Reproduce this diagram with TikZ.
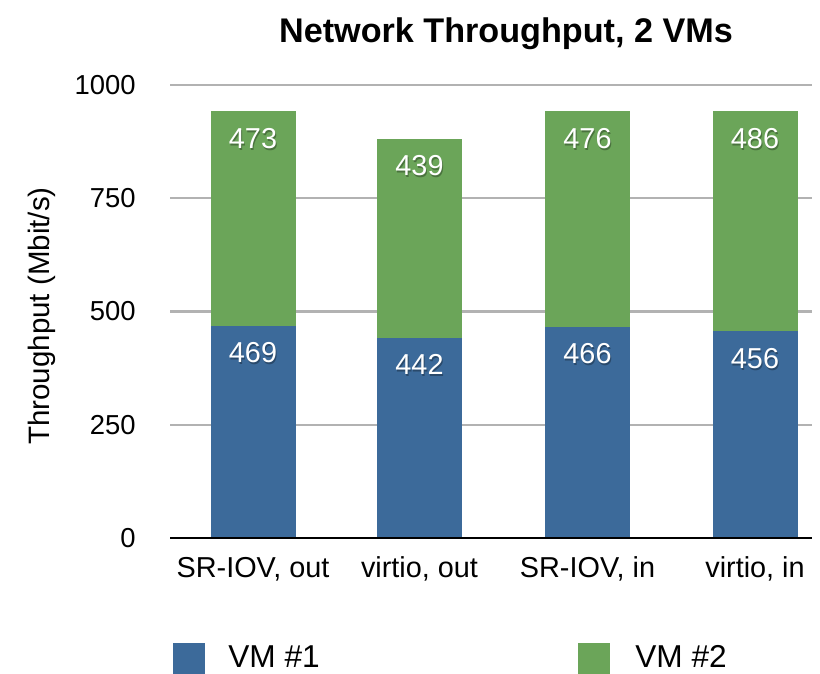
\documentclass[tikz,border=0pt]{standalone}
\usepackage{fontspec}
\setmainfont{Liberation Sans}
\usepackage{xcolor}
\usepackage{tikz}
\usetikzlibrary{positioning}
\definecolor{vmblue}{RGB}{60,106,154}
\definecolor{vmgreen}{RGB}{107,165,89}
\definecolor{gridgray}{RGB}{178,178,178}

\begin{document}
\begin{tikzpicture}[x=0.025cm,y=-0.025cm,
	gridline/.style={gridgray,line width=1.5pt},
	ticklab/.style={anchor=east,inner sep=0pt,font=\fontsize{19.5}{22}\selectfont},
	catlab/.style={anchor=base,inner sep=0pt,font=\fontsize{20.5}{24}\selectfont},
	vallab/.style={text=white,inner sep=0pt,font=\fontsize{20.5}{24}\selectfont},
	valshadow/.style={text=black,opacity=0.3,inner sep=0pt,font=\fontsize{20.5}{24}\selectfont},
	legbox/.style={minimum size=0.8cm,inner sep=0pt,anchor=north west},
	leglab/.style={anchor=base west,inner sep=0pt,font=\fontsize{22.5}{26}\selectfont}]
		\useasboundingbox (0,0) rectangle (820,674);
		\node[anchor=base,inner sep=0pt,font=\bfseries\fontsize{24.3}{28}\selectfont] (title) at (506,43) {Network Throughput, 2 VMs};
		\foreach \v in {250,500,750,1000}
			\draw[gridline] (170,{538-0.453*\v}) -- (812,{538-0.453*\v});
		\foreach \v in {0,250,500,750,1000}
			\node[ticklab] (t\v) at (136,{538-0.453*\v}) {\v};
		\node[rotate=90,inner sep=0pt,font=\fontsize{21}{24}\selectfont] (ylab) at (42,316) {Throughput (Mbit/s)};
		\foreach \cx/\a/\b/\lab [count=\i] in {253/469/473/{SR-IOV, out},419.5/442/439/{virtio, out},587.5/466/476/{SR-IOV, in},755/456/486/{virtio, in}} {
			\fill[vmblue] (\cx-42.5,538) rectangle (\cx+42.5,{538-0.453*\a});
			\fill[vmgreen] (\cx-42.5,{538-0.453*\a}) rectangle (\cx+42.5,{538-0.453*(\a+\b)});
			\node[valshadow] at (\cx+1,{538-0.453*\a+29}) {\a};
			\node[vallab] (a\i) at (\cx,{538-0.453*\a+27}) {\a};
			\node[valshadow] at (\cx+1,{538-0.453*(\a+\b)+29}) {\b};
			\node[vallab] (b\i) at (\cx,{538-0.453*(\a+\b)+27}) {\b};
			\node[catlab] (c\i) at (\cx,577) {\lab};
		}
		\draw[black,line width=1.6pt] (170,538) -- (812,538);
		\node[legbox,fill=vmblue] (k1) at (173,643) {};
		\node[leglab] (l1) at (228,667) {VM \#1};
		\node[legbox,fill=vmgreen] (k2) at (578,643) {};
		\node[leglab] (l2) at (635,667) {VM \#2};
	\end{tikzpicture}
\end{document}
